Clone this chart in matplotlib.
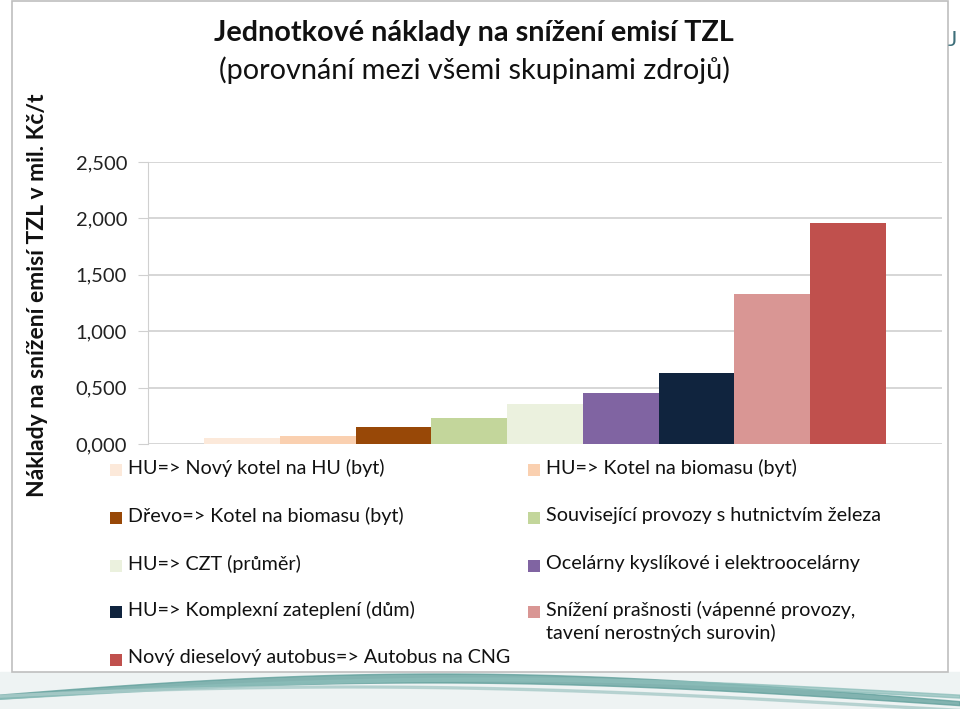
import numpy as np
import matplotlib.pyplot as plt
from matplotlib.patches import Rectangle

plt.rcParams['font.family'] = ['Lato', 'DejaVu Sans']

# data (mil. Kč/t)
labels = [
    'HU=> Nový kotel na HU (byt)',
    'HU=> Kotel na biomasu (byt)',
    'Dřevo=> Kotel na biomasu (byt)',
    'Související provozy s hutnictvím železa',
    'HU=> CZT (průměr)',
    'Ocelárny kyslíkové i elektroocelárny',
    'HU=> Komplexní zateplení (dům)',
    'Snížení prašnosti (vápenné provozy,\ntavení nerostných surovin)',
    'Nový dieselový autobus=> Autobus na CNG',
]
values = [0.053, 0.070, 0.150, 0.230, 0.355, 0.450, 0.630, 1.330, 1.960]
colors = ['#FCE9DA', '#FAD0B0', '#984807', '#C3D69B', '#EBF1DE',
          '#8064A2', '#10243E', '#D99694', '#C0504D']
yticks = [0.0, 0.5, 1.0, 1.5, 2.0, 2.5]
ytick_labels = ['0,000', '0,500', '1,000', '1,500', '2,000', '2,500']

W, H = 960, 709
fig = plt.figure(figsize=(W / 100, H / 100), dpi=100)

# slide background with the swoosh at the bottom
bg = fig.add_axes([0, 0, 1, 1], zorder=-5)
bg.set_xlim(0, W)
bg.set_ylim(H, 0)
bg.axis('off')
xs = np.linspace(0, W, 300)
bg.fill_between(xs, 672, H, color='#EEF3F3')
# main teal band: low on the left, up under the middle, down again on the right
top1 = 700 - 26 * np.sin(np.pi * (xs + 60) / 1000)
bg.fill_between(xs, top1, top1 + 4 + 5 * np.sin(np.pi * xs / 960),
                color='#5E9E9A', alpha=0.75)
top2 = 694 - 16 * np.sin(np.pi * (xs - 40) / 900)
bg.fill_between(xs, top2, top2 + 3, color='#8BBDB9', alpha=0.7)
top3 = 706 - 20 * np.sin(np.pi * (xs + 200) / 1100)
bg.fill_between(xs, top3, top3 + 2, color='#A9CBC9', alpha=0.7)
bg.add_patch(Rectangle((12, 1), 936, 671, facecolor='white',
                       edgecolor='#BFBFBF', linewidth=1.2))
bg.text(948, 40, 'J', fontsize=16, color='#3E6F7A', ha='left', va='center')

ax = fig.add_axes([148 / W, 1 - 444 / H, (942 - 148) / W, (444 - 162) / H])

n = len(values)
x = np.arange(n)
gap = 0.745  # 150 % gap width, split on both sides
ax.bar(x, values, width=1.0, color=colors, edgecolor='none')
ax.set_xlim(-0.5 - gap, n - 0.5 + gap)
ax.set_ylim(0, 2.5)
ax.set_yticks(yticks)
ax.set_yticklabels(ytick_labels, fontsize=14.5, color='#222222')
ax.set_xticks([])
ax.grid(axis='y', color='#D0D0D0', linewidth=1.2)
ax.set_axisbelow(True)
for s in ['top', 'right', 'bottom']:
    ax.spines[s].set_visible(False)
ax.spines['left'].set_color('#D0D0D0')
ax.tick_params(axis='y', length=7, color='#D0D0D0', pad=8)

# titles
fig.text(474 / W, 1 - 33 / H, 'Jednotkové náklady na snížení emisí TZL',
         ha='center', va='center', fontsize=20.7, fontweight='bold', color='#111111')
fig.text(474 / W, 1 - 70 / H, '(porovnání mezi všemi skupinami zdrojů)',
         ha='center', va='center', fontsize=20.8, color='#111111')
fig.text(38 / W, 1 - 295 / H, 'Náklady na snížení emisí TZL v mil. Kč/t',
         ha='center', va='center', rotation=90, fontsize=16.5,
         fontweight='bold', color='#111111')

# legend, two columns filled row by row
col_x = [110, 528]
row_y = [470, 518, 566, 612, 660]
for i, (lab, c) in enumerate(zip(labels, colors)):
    cx = col_x[i % 2]
    cy = row_y[i // 2]
    fig.patches.append(Rectangle((cx / W, 1 - (cy + 6) / H), 12 / W, 12 / H,
                                 transform=fig.transFigure, facecolor=c,
                                 edgecolor='none'))
    fig.text((cx + 18) / W, 1 - (cy - 11) / H, lab, ha='left', va='top',
             fontsize=14.2, color='#111111', linespacing=1.3)

fig.savefig('out.png', dpi=100)
